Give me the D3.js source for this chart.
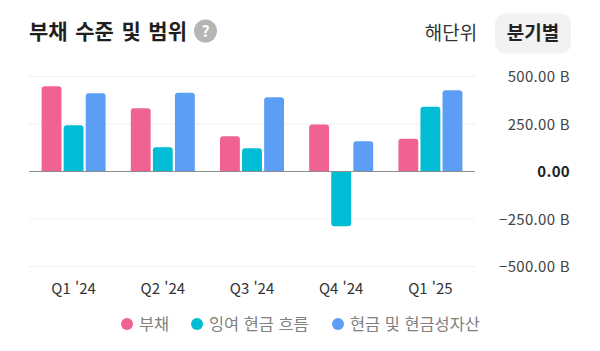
<!DOCTYPE html>
<html lang="ko">
<head>
<meta charset="utf-8">
<script src="https://cdn.jsdelivr.net/npm/d3@7"></script>
<style>
html, body { margin: 0; padding: 0; background: #fff; }
svg { display: block; }
text { font-family: "Noto Sans CJK KR", "Noto Sans", sans-serif; }
</style>
</head>
<body>
<div id="chart"></div>
<script>
// 부채 수준 및 범위 (단위: B)
var categories = ["Q1 '24", "Q2 '24", "Q3 '24", "Q4 '24", "Q1 '25"];
var series_names = ["부채", "잉여 현금 흐름", "현금 및 현금성자산"];
var debt = [449, 333, 185, 248, 172];
var free_cash_flow = [243, 127, 122, -288, 341];
var cash = [412, 415, 391, 159, 428];
var tick_values = [500, 250, 0, -250, -500];
var tick_labels = ["500.00 B", "250.00 B", "0.00", "−250.00 B", "−500.00 B"];
var series_colors = ["#f06292", "#00bcd4", "#5c9ef5"];
var series_values = [debt, free_cash_flow, cash];

var width = 600, height = 351;
var svg = d3.select("#chart").append("svg")
    .attr("width", width)
    .attr("height", height);

var x = d3.scaleBand().domain(categories).range([29, 475]);
var x_inner = d3.scaleBand().domain(d3.range(series_names.length))
    .range([x.bandwidth() / 2 - 32, x.bandwidth() / 2 + 32])
    .paddingInner(0.1);
var y = d3.scaleLinear().domain([-500, 500]).range([266.5, 76.5]);

// 제목
svg.append("text")
    .attr("x", 29).attr("y", 38.5)
    .attr("font-size", 21).attr("font-weight", 700).attr("fill", "#1f1f1f")
    .attr("word-spacing", 1.7)
    .text("부채 수준 및 범위");

svg.append("circle").attr("cx", 205.5).attr("cy", 31).attr("r", 11.5).attr("fill", "#b5b5b5");
svg.append("text")
    .attr("x", 205.5).attr("y", 37)
    .attr("text-anchor", "middle")
    .attr("font-size", 16).attr("font-weight", 700).attr("fill", "#fff")
    .text("?");

// 해단위 / 분기별 버튼
svg.append("text")
    .attr("x", 451).attr("y", 40)
    .attr("text-anchor", "middle")
    .attr("font-size", 19).attr("fill", "#333")
    .text("해단위");
svg.append("rect")
    .attr("x", 495).attr("y", 13.5)
    .attr("width", 76).attr("height", 40).attr("rx", 10)
    .attr("fill", "#f2f2f2");
svg.append("text")
    .attr("x", 533).attr("y", 40)
    .attr("text-anchor", "middle")
    .attr("font-size", 19).attr("font-weight", 700).attr("fill", "#222")
    .text("분기별");

// 격자
svg.append("g").selectAll("line")
    .data(tick_values.filter(function (d) { return d !== 0; }))
    .enter().append("line")
    .attr("x1", 29).attr("x2", 475)
    .attr("y1", function (d) { return y(d); })
    .attr("y2", function (d) { return y(d); })
    .attr("stroke", "#f0f0f0");

// 막대
var groups = svg.append("g").selectAll("g")
    .data(categories)
    .enter().append("g")
    .attr("transform", function (d) { return "translate(" + x(d) + ",0)"; });

groups.selectAll("path")
    .data(function (d, i) {
        return series_values.map(function (s, j) { return { series: j, value: s[i] }; });
    })
    .enter().append("path")
    .attr("fill", function (d) { return series_colors[d.series]; })
    .attr("d", function (d) {
        var x0 = x_inner(d.series), w = x_inner.bandwidth();
        var y0 = y(0), y1 = y(d.value), r = 3;
        var s = d.value >= 0 ? 1 : -1;
        var p = d3.path();
        p.moveTo(x0, y0);
        p.lineTo(x0, y1 + s * r);
        p.quadraticCurveTo(x0, y1, x0 + r, y1);
        p.lineTo(x0 + w - r, y1);
        p.quadraticCurveTo(x0 + w, y1, x0 + w, y1 + s * r);
        p.lineTo(x0 + w, y0);
        p.closePath();
        return p.toString();
    });

// 0 기준선
svg.append("line")
    .attr("x1", 29).attr("x2", 475)
    .attr("y1", y(0)).attr("y2", y(0))
    .attr("stroke", "#8c8c8c").attr("stroke-width", 1.2);

// y축 라벨
svg.append("g").selectAll("text")
    .data(tick_values)
    .enter().append("text")
    .attr("x", 570)
    .attr("y", function (d) { return y(d) + 5.5; })
    .attr("text-anchor", "end")
    .attr("font-size", 15)
    .attr("letter-spacing", 0.3)
    .attr("font-weight", function (d) { return d === 0 ? 700 : 400; })
    .attr("fill", function (d) { return d === 0 ? "#222" : "#444"; })
    .text(function (d, i) { return tick_labels[i]; });

// x축 라벨
var x_axis = svg.append("g")
    .attr("transform", "translate(0,277)")
    .call(d3.axisBottom(x).tickSize(0).tickPadding(0));
x_axis.select(".domain").remove();
x_axis.selectAll("text")
    .attr("dy", null)
    .attr("y", 17)
    .style("font-family", '"Noto Sans CJK KR", sans-serif')
    .style("font-size", "15px")
    .style("fill", "#333");

// 범례
var legend_x = [127, 197, 338];
var legend = svg.append("g").selectAll("g")
    .data(series_names)
    .enter().append("g")
    .attr("transform", function (d, i) { return "translate(" + legend_x[i] + ",324)"; });
legend.append("circle")
    .attr("r", 6)
    .attr("fill", function (d, i) { return series_colors[i]; });
legend.append("text")
    .attr("x", 12).attr("y", 6)
    .attr("font-size", 16.4).attr("fill", "#808080")
    .text(function (d) { return d; });
</script>
</body>
</html>
